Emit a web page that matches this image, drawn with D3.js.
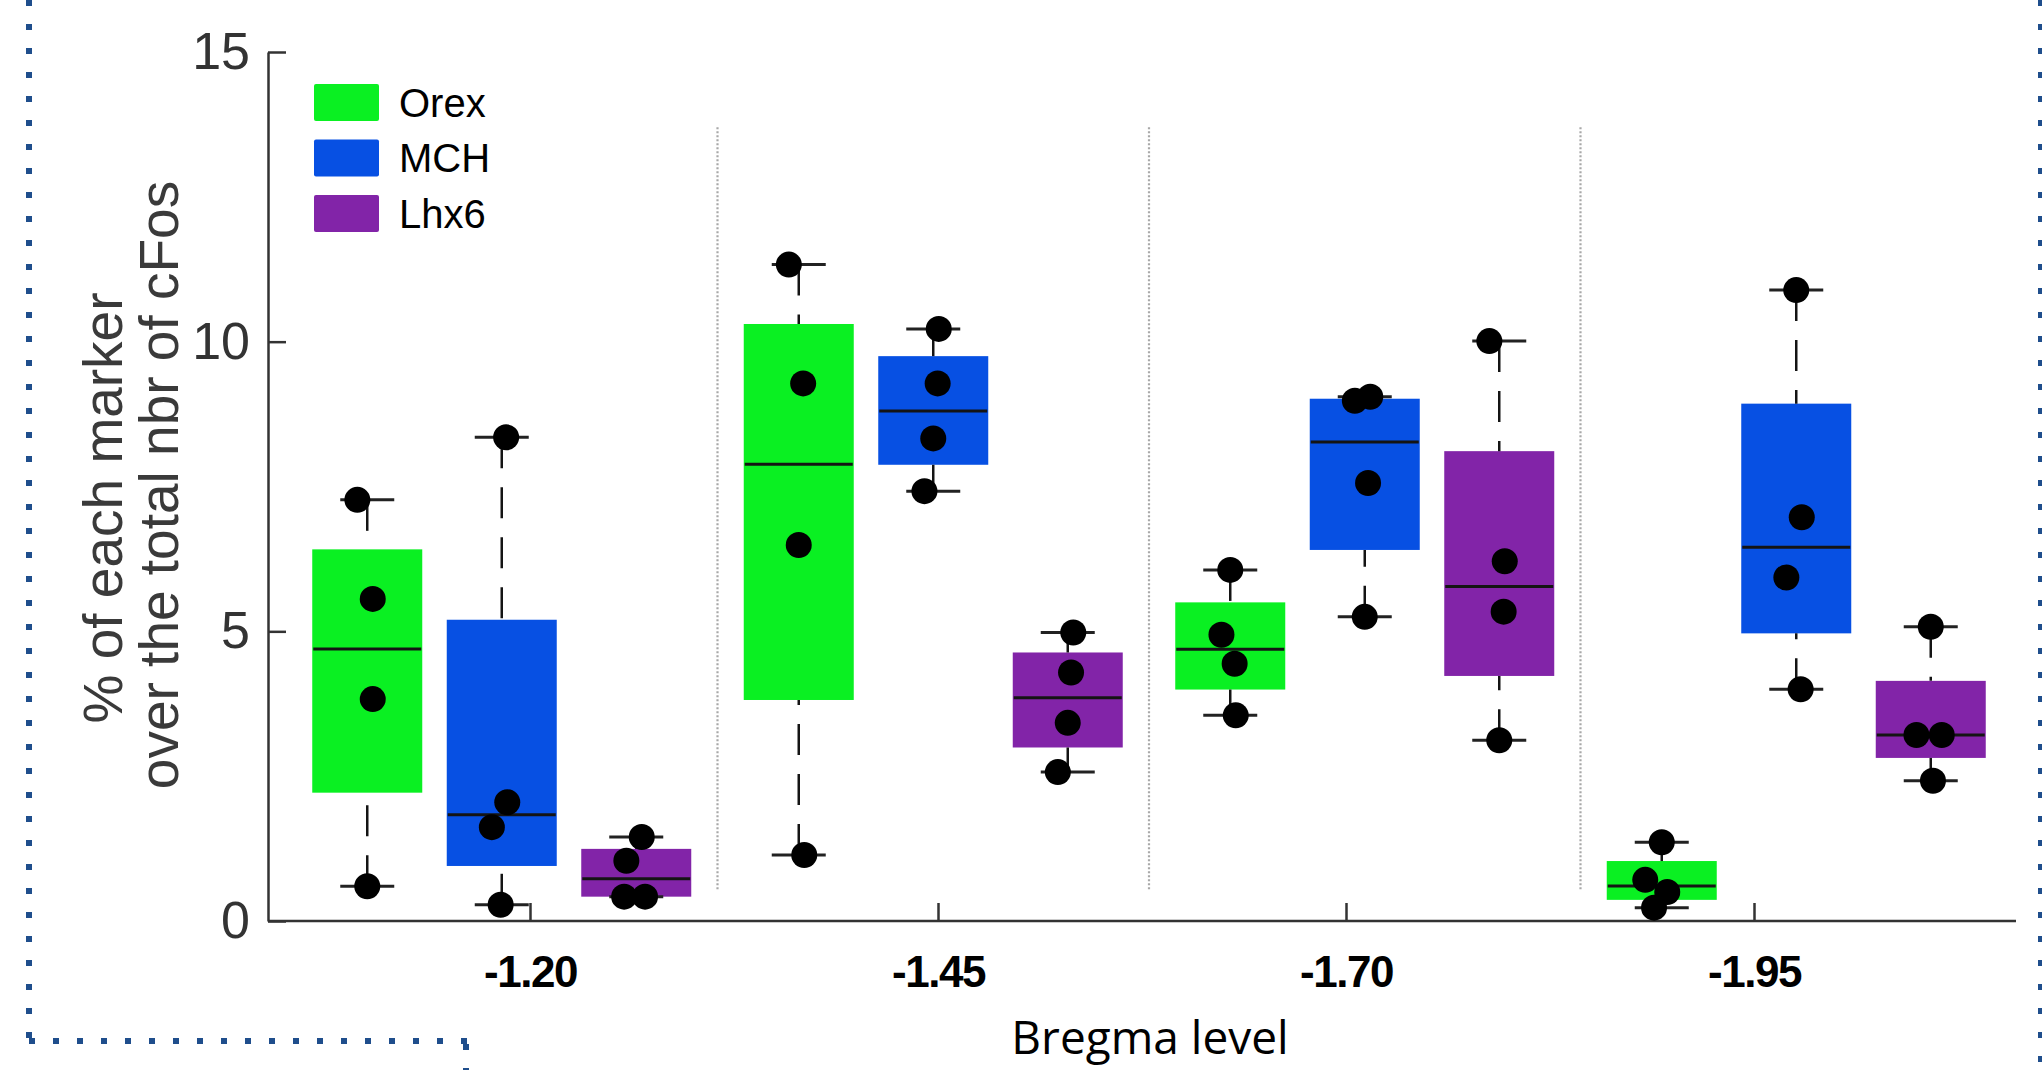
<!DOCTYPE html>
<html>
<head>
<meta charset="utf-8">
<script src="https://cdn.jsdelivr.net/npm/d3@7"></script>
<style>
  body { margin: 0; background: #fff; }
  svg { display: block; }
</style>
</head>
<body>
<svg id="chart" width="2042" height="1070"></svg>
<script>
/* ---------- data ---------- */
const levels = ["-1.20", "-1.45", "-1.70", "-1.95"];
const markers = ["Orex", "MCH", "Lhx6"];
const markerColors = ["#0af022", "#0750e3", "#8224a8"];

// one array of 4 animals per bregma level
const orexValues = [
  [7.27, 5.56, 3.83, 0.60],
  [11.33, 9.28, 6.49, 1.14],
  [6.06, 4.94, 4.44, 3.55],
  [1.36, 0.71, 0.50, 0.23]
];
const mchValues = [
  [8.35, 2.05, 1.62, 0.28],
  [10.22, 9.28, 8.33, 7.42],
  [9.05, 8.98, 7.56, 5.25],
  [10.89, 6.97, 5.93, 4.00]
];
const lhx6Values = [
  [1.45, 1.04, 0.42, 0.42],
  [4.98, 4.29, 3.42, 2.57],
  [10.01, 6.21, 5.34, 3.12],
  [5.08, 3.21, 3.21, 2.42]
];

// horizontal jitter of the dots, as a fraction of box width
const orexJitter = [[-0.09, 0.05, 0.05, 0], [-0.09, 0.04, 0, 0.05], [0, -0.08, 0.04, 0.05], [0, -0.15, 0.05, -0.07]];
const mchJitter = [[0.04, 0.05, -0.09, -0.01], [0.05, 0.04, 0, -0.08], [0.05, -0.09, 0.03, 0], [0, 0.05, -0.09, 0.04]];
const lhx6Jitter = [[0.05, -0.09, -0.11, 0.08], [0.05, 0.03, 0, -0.09], [-0.09, 0.05, 0.04, 0], [0, -0.13, 0.1, 0.02]];

const yTicks = [0, 5, 10, 15];
const yLabelLines = ["% of each marker", "over the total nbr of cFos"];
const xLabel = "Bregma level";

/* ---------- layout ---------- */
const svg = d3.select("#chart");
const AXIS_X0 = 268, AXIS_X1 = 2016;
const BOX_W = 110, CAP_W = 54, DOT_R = 13;
const INK = "#141414";

const y = d3.scaleLinear().domain([0, 15]).range([921, 52]);
const groupX = d3.scaleBand().domain(levels).range([286, 2012]);
const markerX = d3.scalePoint().domain(markers).range([-134.5, 134.5]);
const tickX = d3.scalePoint().domain(levels).range([530, 1754]);

/** MATLAB-style percentile (used by boxplot) */
function prctile(sorted, p) {
  const n = sorted.length;
  const pos = p * n + 0.5;
  if (pos <= 1) return sorted[0];
  if (pos >= n) return sorted[n - 1];
  const i = Math.floor(pos);
  return sorted[i - 1] + (pos - i) * (sorted[i] - sorted[i - 1]);
}

const seriesValues = [orexValues, mchValues, lhx6Values];
const seriesJitter = [orexJitter, mchJitter, lhx6Jitter];

const boxes = [];
markers.forEach((m, mi) => {
  levels.forEach((lv, li) => {
    const vals = seriesValues[mi][li];
    const s = vals.slice().sort(d3.ascending);
    const cx = groupX(lv) + groupX.bandwidth() / 2 + markerX(m);
    boxes.push({
      marker: m,
      color: markerColors[mi],
      cx,
      q1: prctile(s, 0.25),
      med: prctile(s, 0.5),
      q3: prctile(s, 0.75),
      lo: s[0],
      hi: s[s.length - 1],
      points: vals.map((v, k) => ({ v, x: cx + seriesJitter[mi][li][k] * BOX_W }))
    });
  });
});

/* --- dotted frame of the source figure --- */
const frame = svg.append("g")
  .attr("fill", "none")
  .attr("stroke", "#1f4e8c")
  .attr("stroke-width", 6)
  .attr("stroke-dasharray", "6,18");
frame.append("path").attr("d", "M29,0 V1044");
frame.append("path").attr("d", "M29,1041 H470");
frame.append("path").attr("d", "M466,1044 V1070");
frame.append("path").attr("d", "M2041,0 V1066");

/* --- group separators --- */
svg.append("g").selectAll("line")
  .data(levels.slice(1))
  .join("line")
  .attr("x1", (d) => groupX(d))
  .attr("x2", (d) => groupX(d))
  .attr("y1", y(13.7))
  .attr("y2", y(0.53))
  .attr("stroke", "#a8a8a8")
  .attr("stroke-width", 2.2)
  .attr("stroke-dasharray", "2,2");

/* --- axes --- */
const yAxis = svg.append("g")
  .attr("transform", `translate(${AXIS_X0},0)`)
  .call(d3.axisLeft(y).tickValues(yTicks).tickSize(-18).tickSizeOuter(0).tickPadding(18));
yAxis.select(".domain").attr("stroke", "#333").attr("stroke-width", 2.5);
yAxis.selectAll(".tick line").attr("stroke", "#333").attr("stroke-width", 2.5);
yAxis.selectAll(".tick text")
  .attr("fill", "#333")
  .attr("font-family", "'Liberation Sans', Arial, sans-serif")
  .attr("font-size", 52);

const xAxis = svg.append("g")
  .attr("transform", `translate(0,${y(0)})`)
  .call(d3.axisBottom(tickX).tickSize(-18).tickPadding(35));
xAxis.select(".domain").remove();
xAxis.selectAll(".tick line").attr("stroke", "#333").attr("stroke-width", 2.5);
xAxis.selectAll(".tick text")
  .attr("fill", "#000")
  .attr("font-family", "'Liberation Sans', Arial, sans-serif")
  .attr("font-weight", "bold")
  .attr("font-size", 44)
  .attr("letter-spacing", -1.5);
xAxis.append("line")
  .attr("x1", AXIS_X0).attr("x2", AXIS_X1)
  .attr("stroke", "#333").attr("stroke-width", 2.5);

/* --- boxes --- */
const g = svg.append("g");
g.selectAll("rect.box")
  .data(boxes)
  .join("rect")
  .attr("class", "box")
  .attr("x", (d) => d.cx - BOX_W / 2)
  .attr("width", BOX_W)
  .attr("y", (d) => y(d.q3))
  .attr("height", (d) => y(d.q1) - y(d.q3))
  .attr("fill", (d) => d.color);

g.selectAll("line.median")
  .data(boxes)
  .join("line")
  .attr("class", "median")
  .attr("x1", (d) => d.cx - BOX_W / 2 + 1)
  .attr("x2", (d) => d.cx + BOX_W / 2 - 1)
  .attr("y1", (d) => y(d.med))
  .attr("y2", (d) => y(d.med))
  .attr("stroke", INK)
  .attr("stroke-width", 3);

// whiskers run from the cap toward the box so the dash pattern starts at the cap
const whiskers = boxes.flatMap((b) => [
  { cx: b.cx, from: b.hi, to: b.q3 },
  { cx: b.cx, from: b.lo, to: b.q1 }
]);
g.selectAll("line.whisker")
  .data(whiskers)
  .join("line")
  .attr("class", "whisker")
  .attr("x1", (d) => d.cx).attr("x2", (d) => d.cx)
  .attr("y1", (d) => y(d.from))
  .attr("y2", (d) => y(d.to))
  .attr("stroke", INK)
  .attr("stroke-width", 2.5)
  .attr("stroke-dasharray", "31,19");

g.selectAll("line.cap")
  .data(whiskers)
  .join("line")
  .attr("class", "cap")
  .attr("x1", (d) => d.cx - CAP_W / 2)
  .attr("x2", (d) => d.cx + CAP_W / 2)
  .attr("y1", (d) => y(d.from))
  .attr("y2", (d) => y(d.from))
  .attr("stroke", "#222")
  .attr("stroke-width", 3);

/* --- individual animals --- */
g.selectAll("circle.pt")
  .data(boxes.flatMap((b) => b.points))
  .join("circle")
  .attr("class", "pt")
  .attr("cx", (d) => d.x)
  .attr("cy", (d) => y(d.v))
  .attr("r", DOT_R)
  .attr("fill", "#000");

/* --- legend --- */
const legend = svg.append("g").attr("transform", "translate(314,84)");
const item = legend.selectAll("g")
  .data(markers)
  .join("g")
  .attr("transform", (d, i) => `translate(0,${i * 55.5})`);
item.append("rect")
  .attr("width", 65).attr("height", 37).attr("rx", 2)
  .attr("fill", (d, i) => markerColors[i]);
item.append("text")
  .attr("x", 85).attr("y", 18.5).attr("dy", "0.35em")
  .attr("font-family", "'Liberation Sans', Arial, sans-serif")
  .attr("font-size", 40)
  .attr("fill", "#000")
  .text((d) => d);

/* --- axis titles --- */
svg.append("g").selectAll("text")
  .data(yLabelLines)
  .join("text")
  .attr("transform", (d, i) => `translate(${122 + i * 56},${508 - i * 23}) rotate(-90)`)
  .attr("text-anchor", "middle")
  .attr("font-family", "'Liberation Sans', Arial, sans-serif")
  .attr("font-size", 55)
  .attr("fill", "#3a3a3a")
  .text((d) => d);

svg.append("text")
  .attr("x", 1150)
  .attr("y", 1054)
  .attr("text-anchor", "middle")
  .attr("font-family", "'Open Sans', sans-serif")
  .attr("font-size", 46)
  .attr("fill", "#000")
  .text(xLabel);
</script>
</body>
</html>
